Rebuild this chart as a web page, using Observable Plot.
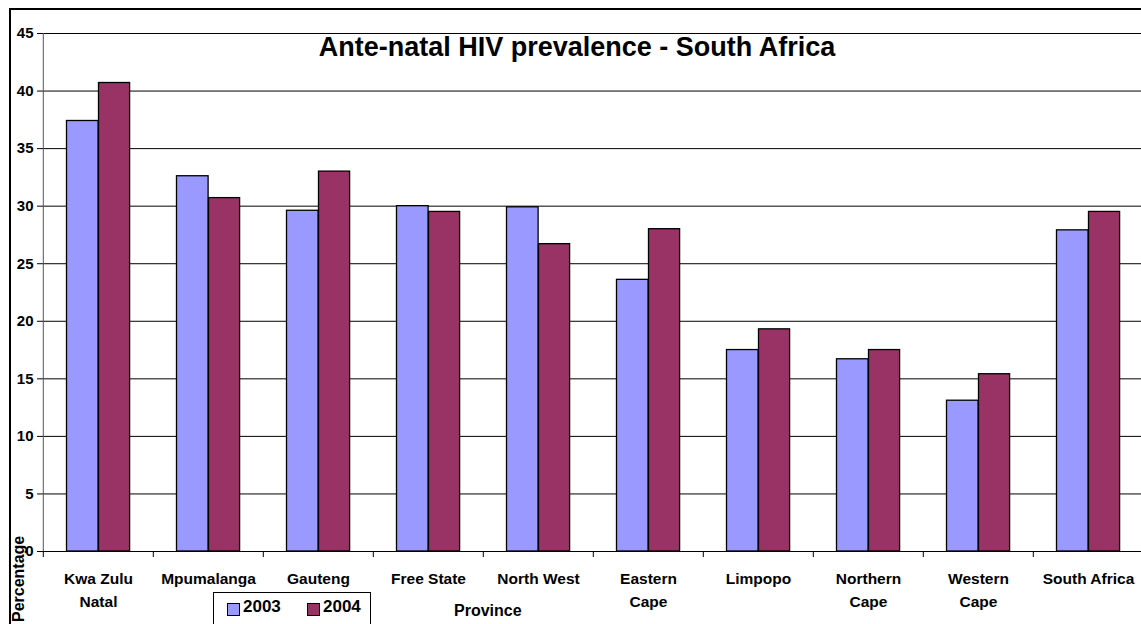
<!DOCTYPE html>
<html><head><meta charset="utf-8">
<script src="https://cdn.jsdelivr.net/npm/d3@7"></script>
<script src="https://cdn.jsdelivr.net/npm/@observablehq/plot@0.6"></script>
<style>
body{margin:0;background:#fff;font-family:"Liberation Sans",Arial,sans-serif;}
#wrap{position:relative;width:1141px;height:624px;overflow:hidden;}
#border{position:absolute;left:9px;top:8px;width:1200px;height:700px;border-top:2px solid #000;border-left:2px solid #000;}
.abs{position:absolute;font-weight:bold;color:#000;white-space:nowrap;}
#legend{position:absolute;left:213px;top:592px;width:156px;height:40px;border:1px solid #000;background:#fff;}
.sw{position:absolute;width:11px;height:11px;border:1px solid #000;}
</style></head>
<body><div id="wrap"><div id="border"></div></div>
<script>
const provinces = ["Kwa Zulu Natal","Mpumalanga","Gauteng","Free State","North West","Eastern Cape","Limpopo","Northern Cape","Western Cape","South Africa"];
const provinceLabels = ["Kwa Zulu\nNatal","Mpumalanga","Gauteng","Free State","North West","Eastern\nCape","Limpopo","Northern\nCape","Western\nCape","South Africa"];
const years = ["2003","2004"];
const values2003 = [37.4, 32.6, 29.6, 30.0, 29.9, 23.6, 17.5, 16.7, 13.1, 27.9];
const values2004 = [40.7, 30.7, 33.0, 29.5, 26.7, 28.0, 19.3, 17.5, 15.4, 29.5];
const yTicks = [0,5,10,15,20,25,30,35,40,45];
const colors = ["#9999FF","#993366"];
const title = "Ante-natal HIV prevalence - South Africa";

const rows2003 = provinces.map((p,i)=>({province:p, year:years[0], value:values2003[i]}));
const rows2004 = provinces.map((p,i)=>({province:p, year:years[1], value:values2004[i]}));
const labelOf = new Map(provinces.map((p,i)=>[p, provinceLabels[i]]));

const bw = 110.4;
const chart = Plot.plot({
  width: 1141, height: 624,
  marginLeft: 41, marginTop: 33, marginBottom: 73, marginRight: 0,
  style: {fontFamily: '"Liberation Sans", Arial, sans-serif', background: "transparent", overflow: "visible"},
  x: {domain: provinces, range: [41, 41 + bw*provinces.length], padding: 0, axis: null},
  y: {domain: [0,45], axis: null},
  color: {domain: years, range: colors},
  marks: [
    Plot.gridY(yTicks, {stroke: "#000", strokeOpacity: 1, strokeWidth: 1}),
    Plot.text([title], {frameAnchor: "top", dx: -14.5, dy: 14, fontSize: 27, fontWeight: "bold", fill: "#000", lineAnchor: "middle"}),
    Plot.barY(rows2003, {x: "province", y: "value", fill: "year", stroke: "#000", strokeWidth: 1.3, insetLeft: 23.5, insetRight: bw - 55.5}),
    Plot.barY(rows2004, {x: "province", y: "value", fill: "year", stroke: "#000", strokeWidth: 1.3, insetLeft: 55.5, insetRight: bw - 87}),
    Plot.ruleY([0], {stroke: "#000", strokeWidth: 1}),
    Plot.ruleX([provinces[0]], {dx: -bw/2, y1: 0, y2: 45, stroke: "#555", strokeWidth: 1}),
    Plot.axisY(yTicks, {tickSize: 4, tickPadding: 4, fontSize: 15, fontWeight: "bold", fill: "#000", stroke: "#000", label: null}),
    Plot.axisX(provinces, {tickSize: 6, dx: -bw/2, tickFormat: () => "", stroke: "#000", label: null}),
    Plot.axisX(provinces, {tickSize: 0, tickPadding: 16, tickFormat: d => labelOf.get(d), fontSize: 15.5, fontWeight: "bold", fill: "#000", lineHeight: 1.48, label: null})
  ]
});
chart.style.position = "absolute";
chart.style.left = "0px";
chart.style.top = "0px";
const wrap = document.getElementById("wrap");
wrap.appendChild(chart);

// axis titles
const xt = document.createElement("div");
xt.className = "abs"; xt.textContent = "Province";
xt.style.cssText += "left:454px;top:602px;font-size:16px;";
wrap.appendChild(xt);
const yt = document.createElement("div");
yt.className = "abs"; yt.textContent = "Percentage";
yt.style.cssText += "left:10px;top:622px;font-size:16px;line-height:18px;transform-origin:0 0;transform:rotate(-90deg);";
wrap.appendChild(yt);

// legend
const lg = document.createElement("div");
lg.id = "legend";
years.forEach((y,i)=>{
  const sw = document.createElement("div");
  sw.className = "sw";
  sw.style.left = (13 + i*80) + "px"; sw.style.top = "10px"; sw.style.background = colors[i];
  lg.appendChild(sw);
  const t = document.createElement("div");
  t.className = "abs"; t.textContent = y;
  t.style.cssText += `left:${29 + i*80}px;top:4px;font-size:17px;`;
  lg.appendChild(t);
});
wrap.appendChild(lg);
</script>
</body></html>
